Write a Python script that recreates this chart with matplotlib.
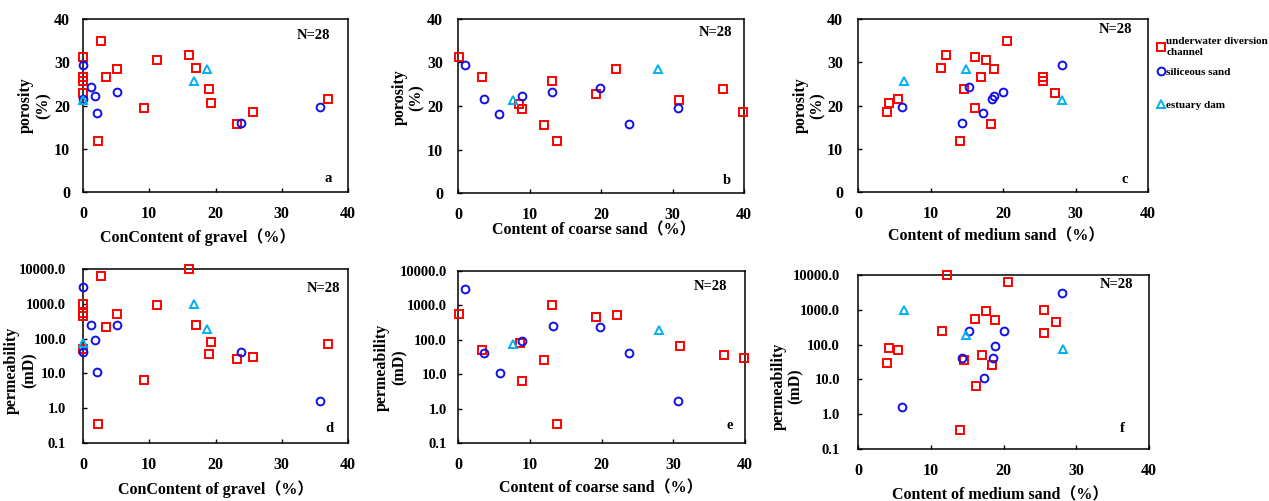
import numpy as np
import matplotlib
matplotlib.use("Agg")
import matplotlib.pyplot as plt
from matplotlib.ticker import FixedLocator, FixedFormatter

plt.rcParams['font.family'] = ['Liberation Serif', 'Noto Sans CJK SC']
plt.rcParams['font.weight'] = 'bold'
plt.rcParams['axes.labelweight'] = 'bold'

nan = np.nan
# ---- data: one entry per sample (N=28) ----
# underwater diversion channel
udc_gravel = [0, 0, 0, 0, 2.3, 2.7, 3.4, 5.1, 9.2, 11.1, 16.0, 17.0, 19.0, 19.3, 23.3, 25.7, 37.0]
udc_coarse = [0.2, 3.3, 13.1, 19.3, 13.8, nan, nan, 22.1, 8.9, nan, nan, nan, 37.1, 8.6, 12.0, 39.9, 30.9]
udc_medium = [16.1, 17.0, 25.5, 27.2, 14.0, 20.6, 25.5, 18.8, 16.2, 17.6, 12.2, 11.5, 14.6, 4.3, 18.4, 4.0, 5.5]
udc_poro = [31.2, 26.7, 25.7, 22.8, 11.9, 35.0, 26.6, 28.5, 19.4, 30.5, 31.7, 28.7, 23.8, 20.5, 15.7, 18.6, 21.4]
udc_perm = [560, 50, 1020, 450, 0.35, 6200, 210, 520, 6.3, 910, 10000, 250, 35, 80, 26, 30, 68]
# siliceous sand
sil_gravel = [0, 0, 1.2, 1.8, 2.1, 5.2, 23.8, 35.8]
sil_coarse = [1.0, 3.6, 19.8, 8.9, 5.8, 13.2, 23.9, 30.7]
sil_medium = [28.1, 18.5, 15.3, 18.8, 17.3, 20.0, 14.3, 6.0]
sil_poro = [29.4, 21.6, 24.2, 22.3, 18.2, 23.2, 15.9, 19.6]
sil_perm = [2950, 40, 240, 92, 10.8, 245, 41, 1.65]
# estuary dam
dam_gravel = [0, 16.7, 18.7]
dam_coarse = [7.7, nan, 28.0]
dam_medium = [28.2, 6.3, 14.9]
dam_poro = [21.3, 25.6, 28.5]
dam_perm = [77, 1000, 190]

facies_labels = ["underwater diversion\nchannel", "siliceous sand", "estuary dam"]
x_labels = ["ConContent of gravel（%）", "Content of coarse sand（%）", "Content of medium sand（%）"]
por_label = "porosity\n(%)"
perm_label = "permeability\n(mD)"
panel_letters = ["a", "b", "c", "d", "e", "f"]
por_ticks = [0, 10, 20, 30, 40]
perm_ticks = [0.1, 1, 10, 100, 1000, 10000]
perm_ticklabels = ["0.1", "1.0", "10.0", "100.0", "1000.0", "10000.0"]
x_ticks = [0, 10, 20, 30, 40]

W, H = 1269, 501
fig = plt.figure(figsize=(W / 100, H / 100), dpi=100)

# axes boxes in pixels: left, right, top, bottom
boxes = [
    (83, 348, 19, 192), (458, 744, 19, 193), (858, 1148, 19, 192),
    (83, 348, 269, 443), (458, 745, 271, 443), (858, 1149, 275, 449),
]
ylab_pos = [(-0.12, 0.5), (-0.115, 0.55), (-0.11, 0.5),
            (-0.172, 0.42), (-0.176, 0.44), (-0.186, 0.36)]
ypads = [9.4, 10.8, 10.8, 12.2, 8.0, 13.0]
xlab_pos = [(0.434, -0.26), (0.476, -0.213), (0.476, -0.254),
            (0.5, -0.264), (0.498, -0.262), (0.488, -0.264)]
n_pos = [(0.932, 0.907), (0.96, 0.92), (0.945, 0.94), (0.97, 0.89), (0.937, 0.907), (0.945, 0.943)]
let_pos = [(0.925, 0.08), (0.94, 0.07), (0.92, 0.07), (0.93, 0.086), (0.948, 0.1), (0.907, 0.115)]

udc_x = [udc_gravel, udc_coarse, udc_medium]
sil_x = [sil_gravel, sil_coarse, sil_medium]
dam_x = [dam_gravel, dam_coarse, dam_medium]

red = '#FF0000'
blue = '#1010E8'
cyan = '#00B0F0'

axes = []
for i, (l, r, t, b) in enumerate(boxes):
    ax = fig.add_axes([l / W, (H - b) / H, (r - l) / W, (b - t) / H])
    axes.append(ax)
    col = i % 3
    row = i // 3
    if row == 0:
        ys = (udc_poro, sil_poro, dam_poro)
    else:
        ys = (udc_perm, sil_perm, dam_perm)
    h1, = ax.plot(udc_x[col], ys[0], ls='none', marker='s', ms=5.4, mfc='none', mec=red, mew=1.4, clip_on=False, zorder=3)
    h2, = ax.plot(sil_x[col], ys[1], ls='none', marker='o', ms=5.6, mfc='none', mec=blue, mew=1.4, clip_on=False, zorder=4)
    h3, = ax.plot(dam_x[col], ys[2], ls='none', marker='^', ms=5.4, mfc='none', mec=cyan, mew=1.4, clip_on=False, zorder=5)
    if i == 2:
        handles = [h1, h2, h3]
    ax.set_xlim(0, 40)
    ax.xaxis.set_major_locator(FixedLocator(x_ticks))
    ax.tick_params(direction='in', length=3, width=1, labelsize=11.5)
    if row == 0:
        ax.set_ylim(0, 40)
        ax.yaxis.set_major_locator(FixedLocator(por_ticks))
        ax.set_ylabel(por_label, fontsize=11.5, fontweight='bold', linespacing=1.1)
    else:
        ax.set_yscale('log')
        ax.set_ylim(0.1, 10000)
        ax.yaxis.set_major_locator(FixedLocator(perm_ticks))
        ax.yaxis.set_major_formatter(FixedFormatter(perm_ticklabels))
        ax.yaxis.set_minor_locator(FixedLocator([]))
        ax.set_ylabel(perm_label, fontsize=11.5, fontweight='bold', linespacing=1.1)
        ax.tick_params(axis='y', labelsize=10.5)
    ax.yaxis.set_label_coords(*ylab_pos[i])
    ax.set_xlabel(x_labels[col], fontsize=11.5, fontweight='bold')
    ax.xaxis.label.set_va('center')
    ax.xaxis.set_label_coords(*xlab_pos[i])
    ax.tick_params(axis='x', pad=10)
    ax.tick_params(axis='y', pad=ypads[i])
    for lab in ax.get_xticklabels() + ax.get_yticklabels():
        lab.set_fontweight('bold')
    for s in ax.spines.values():
        s.set_linewidth(1.1)
    ax.text(*n_pos[i], "N=28", transform=ax.transAxes, ha='right', va='center', fontsize=10.5, fontweight='bold')
    ax.text(*let_pos[i], panel_letters[i], transform=ax.transAxes, ha='center', va='center', fontsize=10.5, fontweight='bold')

# legend: one entry per facies, stacked to the right of panel c
leg_centers = [47, 72, 105]
for hnd, lab, yc in zip(handles, facies_labels, leg_centers):
    lg = fig.legend([hnd], [lab], loc='center left', bbox_to_anchor=(1158 / W, 1 - yc / H),
                    frameon=False, handlelength=0.5, handletextpad=0.25,
                    borderaxespad=0, borderpad=0, prop={'weight': 'bold', 'size': 8})

fig.savefig("out.png", dpi=100)
